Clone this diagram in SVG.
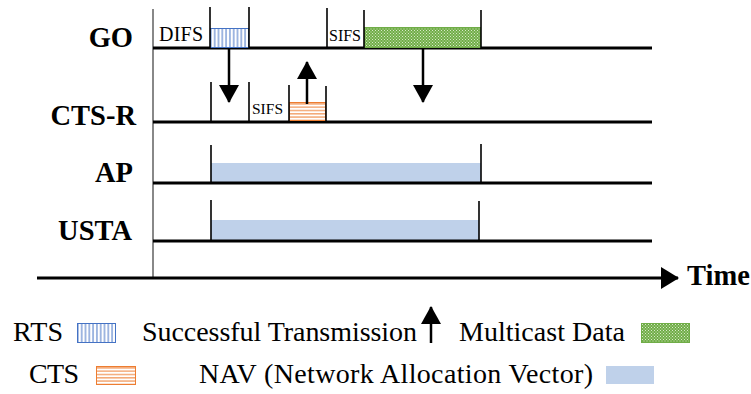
<svg xmlns="http://www.w3.org/2000/svg" width="751" height="394" viewBox="0 0 751 394">
<style>
.lbl{font-family:"Liberation Serif","Times New Roman",serif;font-weight:bold;font-size:28.5px;fill:#000}
.leg{font-family:"Liberation Serif","Times New Roman",serif;font-size:28px;fill:#000}
.sm{font-family:"Liberation Serif","Times New Roman",serif;fill:#000}
.line{stroke:#000;stroke-width:3;fill:none}
.tick{stroke:#000;stroke-width:1.6;fill:none}
.arr{stroke:#000;stroke-width:2.5;fill:none}
.nav{fill:#bfd1ea}
.rts{fill:url(#pRts);stroke:#4472c4;stroke-width:1}
.cts{fill:url(#pCts);stroke:#ed7d31;stroke-width:1}
.md{fill:url(#pMd);stroke:#70ad47;stroke-width:1}
</style>
<defs>
<pattern id="pRts" width="3.8" height="4" patternUnits="userSpaceOnUse">
<rect width="3.8" height="4" fill="#fff"/>
<line x1="1.9" y1="0" x2="1.9" y2="4" stroke="#4472c4" stroke-width="1"/>
</pattern>
<pattern id="pCts" width="4" height="3.3" patternUnits="userSpaceOnUse">
<rect width="4" height="3.3" fill="#fff"/>
<line x1="0" y1="1.6" x2="4" y2="1.6" stroke="#ed7d31" stroke-width="1"/>
</pattern>
<pattern id="pMd" width="3" height="3" patternUnits="userSpaceOnUse">
<rect width="3" height="3" fill="#70ad47"/>
<rect x="0" y="0" width="1" height="1" fill="#d8ebc9"/>
<rect x="1.5" y="1.5" width="1" height="1" fill="#d8ebc9"/>
</pattern>
<marker id="ah" markerUnits="userSpaceOnUse" markerWidth="20" markerHeight="20" viewBox="0 0 18 20" refX="17" refY="10" orient="auto">
<path d="M0,0 L18,10 L0,20 Z" fill="#000"/>
</marker>
<marker id="ahT" markerUnits="userSpaceOnUse" markerWidth="20" markerHeight="22" viewBox="0 0 18 22" refX="17" refY="11" orient="auto">
<path d="M0,0 L18,11 L0,22 Z" fill="#000"/>
</marker>
</defs>

<g id="axes">
<line x1="153" y1="9" x2="153" y2="278" stroke="#888" stroke-width="2"/>
<line x1="37" y1="278" x2="678" y2="278" class="line" marker-end="url(#ahT)"/>
<text x="687" y="285" class="lbl" textLength="63">Time</text>
</g>

<g id="GO">
<text x="133" y="47" class="lbl" text-anchor="end">GO</text>
<line x1="153" y1="48" x2="652" y2="48" class="line"/>
<rect x="210.5" y="28.5" width="38" height="19" class="rts"/>
<rect x="364.5" y="27.5" width="116" height="20" class="md"/>
<line x1="210" y1="7" x2="210" y2="48" class="tick"/>
<line x1="249" y1="7" x2="249" y2="48" class="tick"/>
<line x1="327" y1="8" x2="327" y2="48" class="tick"/>
<line x1="364" y1="10" x2="364" y2="48" class="tick"/>
<line x1="481" y1="10" x2="481" y2="48" class="tick"/>
<text x="159" y="41" class="sm" font-size="20" textLength="44">DIFS</text>
<text x="329" y="41" class="sm" font-size="16" textLength="32">SIFS</text>
</g>

<g id="CTS-R">
<text x="136" y="125" class="lbl" text-anchor="end">CTS-R</text>
<line x1="153" y1="122" x2="652" y2="122" class="line"/>
<rect x="289.5" y="102.5" width="36" height="18" class="cts"/>
<line x1="211" y1="82" x2="211" y2="122" class="tick"/>
<line x1="249" y1="82" x2="249" y2="122" class="tick"/>
<line x1="289" y1="85" x2="289" y2="122" class="tick"/>
<line x1="326" y1="86" x2="326" y2="122" class="tick"/>
<text x="252" y="114" class="sm" font-size="15.5" textLength="31">SIFS</text>
</g>

<g id="AP">
<text x="133" y="182" class="lbl" text-anchor="end">AP</text>
<rect x="211" y="163" width="270" height="20" class="nav"/>
<line x1="153" y1="183" x2="652" y2="183" class="line"/>
<line x1="211" y1="145" x2="211" y2="183" class="tick"/>
<line x1="481" y1="144" x2="481" y2="183" class="tick"/>
</g>

<g id="USTA">
<text x="132" y="240" class="lbl" text-anchor="end">USTA</text>
<rect x="211" y="220" width="268" height="21" class="nav"/>
<line x1="153" y1="241" x2="652" y2="241" class="line"/>
<line x1="211" y1="200" x2="211" y2="241" class="tick"/>
<line x1="479" y1="201" x2="479" y2="241" class="tick"/>
</g>

<g id="connectors">
<line x1="229" y1="48" x2="229" y2="102" class="arr" marker-end="url(#ah)"/>
<line x1="307" y1="104" x2="307" y2="62" class="arr" marker-end="url(#ah)"/>
<line x1="423" y1="48" x2="423" y2="102" class="arr" marker-end="url(#ah)"/>
</g>

<g id="legend">
<text x="13" y="341" class="leg" textLength="50">RTS</text>
<rect x="77.5" y="323.5" width="38" height="19" class="rts"/>
<text x="142" y="341" class="leg" textLength="275">Successful Transmission</text>
<line x1="431" y1="343" x2="431" y2="307" class="arr" marker-end="url(#ah)"/>
<text x="459" y="341" class="leg" textLength="166">Multicast Data</text>
<rect x="641.5" y="323.5" width="48" height="19" class="md"/>
<text x="29" y="383" class="leg" textLength="50">CTS</text>
<rect x="96.5" y="366.5" width="39" height="18" class="cts"/>
<text x="199" y="383" class="leg" textLength="394">NAV (Network Allocation Vector)</text>
<rect x="606" y="366" width="48" height="18" class="nav"/>
</g>
</svg>
